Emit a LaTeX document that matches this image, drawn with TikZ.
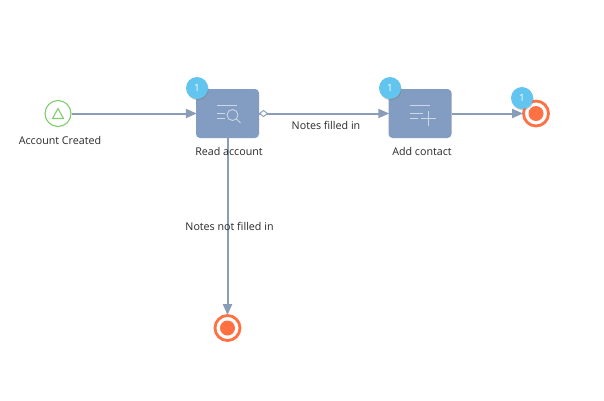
\documentclass[tikz,border=0pt]{standalone}
\usepackage{fontspec}
\setmainfont{Open Sans}
\usetikzlibrary{arrows.meta,shadows}
\definecolor{flow}{HTML}{8A9DB8}
\definecolor{taskfill}{HTML}{829CC2}
\definecolor{endc}{HTML}{FF7043}
\definecolor{startc}{HTML}{7FCE6E}
\definecolor{badgec}{HTML}{62C5F0}
\definecolor{txt}{HTML}{2A2A2A}
\tikzset{
  x=1pt,y=-1pt,
  conn/.style={draw=flow,line width=2pt,shorten >=-1pt,-{Triangle[length=11pt,width=9pt,fill=flow]}},
  taskbox/.style={draw=none,fill=taskfill,rounded corners=4pt,minimum width=63pt,minimum height=49pt,inner sep=0pt},
  startev/.style={circle,draw=startc,line width=1.1pt,fill=white,minimum size=26pt,inner sep=0pt},
  endev/.style={circle,draw=endc,line width=2.8pt,fill=white,minimum size=25pt,inner sep=0pt},
  enddot/.style={circle,fill=endc,minimum size=15pt,inner sep=0pt},
  badge/.style={circle,fill=badgec,minimum size=22pt,inner sep=0pt,text=white,font=\fontsize{10}{12}\selectfont,drop shadow={shadow xshift=0.7pt,shadow yshift=-1.2pt,opacity=.4}},
  lbl/.style={text=txt,font=\fontsize{10.7}{12}\selectfont,inner sep=0pt},
  icon/.style={draw=white!60!taskfill,line width=.9pt}
}
\begin{document}
\begin{tikzpicture}
\useasboundingbox[fill=white] (0,0) rectangle (604,400);
\node[startev] (start) at (58,113.5) {};
\node[taskbox] (read) at (227.5,113.5) {};
\node[taskbox] (add) at (420,113.5) {};
\node[endev] (end1) at (536,113.5) {};
\node[enddot] (dot1) at (536,113.5) {};
\node[endev] (end2) at (227.5,328) {};
\node[enddot] (dot2) at (227.5,328) {};
% start triangle
\draw[draw=startc,line width=1.1pt,line join=round] (52.5,118.5) -- (58,108.5) -- (63.5,118.5) -- cycle;
% connectors
\draw[conn] (start) -- (read);
\draw[conn] (read) -- (add);
\draw[conn] (add) -- (end1);
\draw[conn] (read) -- (end2);
% default-flow diamond
\draw[draw=flow,fill=white,line width=.9pt] (259.5,113.5) -- (263.5,110.5) -- (267.5,113.5) -- (263.5,116.5) -- cycle;
% read icon
\draw[icon] (217,105) -- (237,105);
\draw[icon] (217,113) -- (225,113);
\draw[icon] (217,118) -- (225,118);
\draw[icon] (232.5,115) circle (5.5pt);
\draw[icon] (236.5,119) -- (240.5,123);
% add icon
\draw[icon] (409.5,105) -- (430,105);
\draw[icon] (409.5,113.5) -- (423,113.5);
\draw[icon] (409.5,118.5) -- (418,118.5);
\draw[icon] (421,118.5) -- (436,118.5);
\draw[icon] (428.5,111) -- (428.5,126);
% badges
\node[badge] (b1) at (197,88) {1};
\node[badge] (b2) at (390,88) {1};
\node[badge] (b3) at (522,98) {1};
% labels
\node[lbl] (l1) at (60,140.5) {Account Created};
\node[lbl] (l2) at (229,151.5) {Read account};
\node[lbl] (l3) at (422,151.5) {Add contact};
\node[lbl] (l4) at (326,125.5) {Notes filled in};
\node[lbl] (l5) at (229.5,226.5) {Notes not filled in};
\end{tikzpicture}
\end{document}
